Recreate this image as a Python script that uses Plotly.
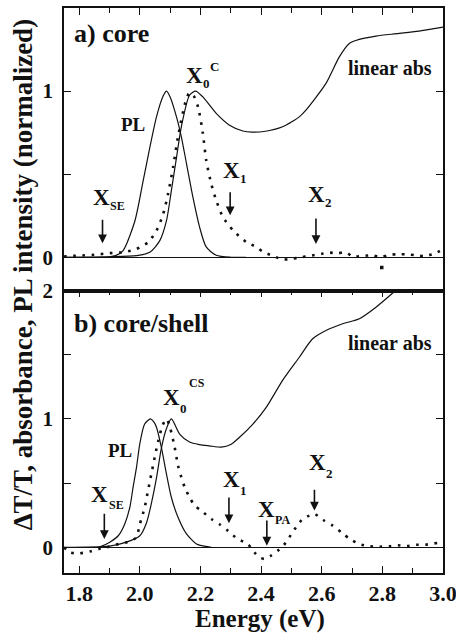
import plotly.graph_objects as go

# ---------------- data ----------------
# Panel a) core
pl_a_E = [1.75, 1.85, 1.90, 1.92, 1.945, 1.984, 2.011, 2.033, 2.055, 2.077, 2.088, 2.10, 2.121, 2.137, 2.154, 2.175, 2.197, 2.219, 2.252, 2.30, 2.35]
pl_a_v = [0.0, 0.0, 0.003, 0.01, 0.04, 0.22, 0.46, 0.66, 0.845, 0.97, 1.0, 0.965, 0.845, 0.725, 0.564, 0.363, 0.183, 0.062, 0.012, 0.0, 0.0]

abs_a_E = [1.75, 1.90, 1.99, 2.033, 2.066, 2.088, 2.104, 2.121, 2.137, 2.164, 2.184, 2.208, 2.252, 2.296, 2.34, 2.37, 2.41,
           2.471, 2.526, 2.548, 2.614, 2.658, 2.691, 2.724, 2.779, 2.855, 2.93, 3.0]
abs_a_v = [0.0, 0.003, 0.01, 0.03, 0.10, 0.22, 0.40, 0.60, 0.785, 0.975, 1.0, 0.965, 0.866, 0.795, 0.76, 0.753, 0.757,
           0.785, 0.845, 0.885, 1.046, 1.206, 1.287, 1.311, 1.331, 1.347, 1.364, 1.385]

dt_a_E = [1.75, 1.80, 1.85, 1.90, 1.945, 1.989, 2.027, 2.055, 2.077, 2.093, 2.11, 2.126, 2.15, 2.164, 2.178, 2.192, 2.208,
          2.219, 2.236, 2.252, 2.274, 2.307, 2.351, 2.384, 2.406, 2.43, 2.471, 2.50, 2.53, 2.56, 2.598, 2.625, 2.652,
          2.68, 2.702, 2.735, 2.768, 2.795, 2.82, 2.85, 2.88, 2.91, 2.94, 2.975, 3.0]
dt_a_v = [0.005, 0.01, 0.015, 0.025, 0.03, 0.05, 0.09, 0.16, 0.26, 0.38, 0.544, 0.725, 0.93, 0.99, 0.97, 0.905, 0.745,
          0.584, 0.44, 0.343, 0.243, 0.163, 0.092, 0.062, 0.033, 0.015, -0.013, -0.01, 0.0, 0.008, 0.02, 0.028, 0.024,
          0.03, 0.004, 0.008, 0.012, 0.0, 0.014, 0.018, 0.018, 0.012, 0.008, 0.024, 0.05]
glitch_a_E = [2.798]
glitch_a_v = [-0.062]

# Panel b) core/shell
pl_b_E = [1.86, 1.87, 1.901, 1.929, 1.95, 1.967, 1.978, 1.989, 2.0, 2.016, 2.035, 2.045, 2.055, 2.071, 2.088, 2.104,
          2.126, 2.154, 2.187, 2.20, 2.236]
pl_b_v = [0.0, 0.005, 0.04, 0.09, 0.18, 0.31, 0.47, 0.62, 0.806, 0.96, 1.0, 0.98, 0.935, 0.78, 0.57, 0.39,
          0.234, 0.104, 0.026, 0.015, 0.0]

abs_b_E = [1.75, 1.90, 1.956, 2.0, 2.022, 2.038, 2.055, 2.071, 2.088, 2.104, 2.132, 2.164, 2.197, 2.23, 2.269, 2.30,
           2.329, 2.373, 2.417, 2.471, 2.526, 2.57, 2.614, 2.669, 2.724, 2.779, 2.839, 2.90]
abs_b_v = [0.0, 0.01, 0.04, 0.09, 0.19, 0.34, 0.54, 0.77, 0.925, 1.0, 0.88, 0.82, 0.80, 0.79, 0.78, 0.80,
           0.857, 0.96, 1.09, 1.30, 1.48, 1.624, 1.689, 1.741, 1.78, 1.87, 1.99, 2.12]

dt_b_E = [1.75, 1.77, 1.80, 1.84, 1.87, 1.89, 1.92, 1.95, 1.975, 1.989, 2.0, 2.016, 2.027, 2.038, 2.049, 2.06, 2.075,
          2.088, 2.10, 2.115, 2.126, 2.137, 2.148, 2.164, 2.181, 2.203, 2.236, 2.263, 2.29, 2.323, 2.356, 2.378,
          2.395, 2.411, 2.433, 2.455, 2.471, 2.493, 2.515, 2.537, 2.559, 2.576, 2.605, 2.636, 2.667, 2.693, 2.724,
          2.757, 2.79, 2.82, 2.85, 2.88, 2.91, 2.94, 2.97, 3.0]
dt_b_v = [0.0, -0.04, -0.047, -0.03, -0.01, 0.0, 0.02, 0.035, 0.055, 0.078, 0.18, 0.31, 0.44, 0.57, 0.70, 0.82, 0.95,
          1.0, 0.93, 0.78, 0.637, 0.546, 0.468, 0.39, 0.325, 0.286, 0.22, 0.18, 0.13, 0.065, 0.026, -0.039,
          -0.078, -0.09, -0.065, -0.026, 0.005, 0.078, 0.156, 0.22, 0.247, 0.26, 0.213, 0.169, 0.112, 0.065, 0.026,
          0.008, 0.005, 0.008, 0.016, 0.01, 0.02, 0.02, 0.03, 0.04]

# transition energies marked with arrows
arrow_a_E = [1.877, 2.298, 2.581]            # X_SE, X_1, X_2 (core)
arrow_b_E = [1.883, 2.294, 2.419, 2.576]     # X_SE, X_1, X_PA, X_2 (core/shell)

x_ticks = [1.8, 2.0, 2.2, 2.4, 2.6, 2.8, 3.0]

# ---------------- figure ----------------
FONT = "Liberation Serif, Times New Roman, serif"
BLACK = "#111111"

fig = go.Figure()

def solid(E, v, xa, ya):
    fig.add_trace(go.Scatter(x=E, y=v, mode="lines", xaxis=xa, yaxis=ya,
                             line=dict(color=BLACK, width=1.2, shape="spline", smoothing=0.7),
                             showlegend=False, hoverinfo="skip"))

def dotted(E, v, xa, ya):
    fig.add_trace(go.Scatter(x=E, y=v, mode="lines", xaxis=xa, yaxis=ya,
                             line=dict(color=BLACK, width=2.6, dash="2.6px,6.6px",
                                       shape="spline", smoothing=0.7),
                             showlegend=False, hoverinfo="skip"))

# panel a (top) uses x2/y2
solid(pl_a_E, pl_a_v, "x2", "y2")
solid(abs_a_E, abs_a_v, "x2", "y2")
dotted(dt_a_E, dt_a_v, "x2", "y2")
fig.add_trace(go.Scatter(x=glitch_a_E, y=glitch_a_v, mode="markers", xaxis="x2", yaxis="y2",
                         marker=dict(color=BLACK, size=3.5, symbol="square"),
                         showlegend=False, hoverinfo="skip"))

# panel b (bottom) uses x/y
solid(pl_b_E, pl_b_v, "x", "y")
solid(abs_b_E, abs_b_v, "x", "y")
dotted(dt_b_E, dt_b_v, "x", "y")

axis_common = dict(showgrid=False, showline=True, linecolor=BLACK, linewidth=1.8,
                   ticks="inside", tickcolor=BLACK, tickwidth=1.3, automargin=False)

fig.update_layout(
    width=456, height=641,
    margin=dict(l=64, r=13, t=8, b=68),
    paper_bgcolor="white", plot_bgcolor="white",
    font=dict(family=FONT, color=BLACK, weight="bold"),
    xaxis=dict(domain=[0, 1], anchor="y", range=[1.75, 3.0], tickvals=x_ticks, tickformat=".1f",
               ticklen=7, mirror="allticks", zeroline=False, ticklabeloverflow="allow",
               ticklabelstandoff=0,
               minor=dict(dtick=0.1, tick0=1.8, ticks="inside", ticklen=5, tickwidth=1.3, tickcolor=BLACK),
               tickfont=dict(size=22, family=FONT, weight="bold"), **axis_common),
    xaxis2=dict(domain=[0, 1], anchor="y2", matches="x", range=[1.75, 3.0], side="top",
                tickvals=x_ticks, showticklabels=False, ticklen=7, mirror=True, zeroline=False,
                minor=dict(dtick=0.1, tick0=1.8, ticks="inside", ticklen=5, tickwidth=1.3, tickcolor=BLACK),
                **axis_common),
    yaxis=dict(domain=[0, 0.5], anchor="x", range=[-0.2, 2.0], tick0=0, dtick=1, ticklen=7,
               mirror="allticks", zeroline=True, zerolinecolor=BLACK, zerolinewidth=1.3,
               ticklabeloverflow="allow", ticklabelstandoff=5,
               minor=dict(dtick=0.5, ticks="inside", ticklen=7, tickwidth=1.3, tickcolor=BLACK),
               tickfont=dict(size=21, family=FONT, weight="bold"), **axis_common),
    yaxis2=dict(domain=[0.5, 1], anchor="x2", range=[-0.2, 1.5], tick0=0, dtick=1, ticklen=7,
                mirror="allticks", zeroline=True, zerolinecolor=BLACK, zerolinewidth=1.3,
                ticklabelstandoff=5,
                minor=dict(dtick=0.5, ticks="inside", ticklen=7, tickwidth=1.3, tickcolor=BLACK),
                tickfont=dict(size=21, family=FONT, weight="bold"), **axis_common),
)

ann = []

def txt(text, x, y, xr, yr, size, xanchor="center", yanchor="middle"):
    ann.append(dict(text=text, x=x, y=y, xref=xr, yref=yr, showarrow=False,
                    xanchor=xanchor, yanchor=yanchor,
                    font=dict(family=FONT, size=size, color=BLACK, weight="bold")))

X_PX = 23
SUB_DX = 0.0563          # eV, sub-label start right of the X

def xlabel(sub, x, y, xr, yr, sub_px, sub_dy, sup=None, sup_dx=0.0, sup_dy=0.0, sup_px=13):
    txt("X", x, y, xr, yr, X_PX, xanchor="left", yanchor="top")
    txt(sub, x + SUB_DX, y - sub_dy, xr, yr, sub_px, xanchor="left", yanchor="top")
    if sup:
        txt(sup, x + sup_dx, y + sup_dy, xr, yr, sup_px, xanchor="left", yanchor="top")

def arrow(E, tail, tip, xr, yr):
    ann.append(dict(text="", x=E, y=tip, ax=E, ay=tail, xref=xr, yref=yr, axref=xr, ayref=yr,
                    showarrow=True, arrowhead=2, arrowsize=1.1, arrowwidth=1.6, arrowcolor=BLACK,
                    standoff=0, startstandoff=0))

# panel a labels
txt("a) core", 1.776, 1.349, "x2", "y2", 26, xanchor="left")
txt("linear abs", 2.97, 1.139, "x2", "y2", 20, xanchor="right")
txt("PL", 1.979, 0.80, "x2", "y2", 19)
xlabel("0", 2.147, 1.184, "x2", "y2", 13, 0.081, sup="C", sup_dx=0.079, sup_dy=0.022)
xlabel("SE", 1.840, 0.449, "x2", "y2", 12, 0.086)
xlabel("1", 2.267, 0.612, "x2", "y2", 13, 0.081)
xlabel("2", 2.547, 0.467, "x2", "y2", 13, 0.081)
arrow(arrow_a_E[0], 0.235, 0.084, "x2", "y2")
arrow(arrow_a_E[1], 0.400, 0.253, "x2", "y2")
arrow(arrow_a_E[2], 0.243, 0.080, "x2", "y2")

# panel b labels
txt("b) core/shell", 1.776, 1.744, "x", "y", 26, xanchor="left")
txt("linear abs", 2.97, 1.588, "x", "y", 20, xanchor="right")
txt("PL", 1.934, 0.754, "x", "y", 19)
xlabel("0", 2.070, 1.281, "x", "y", 13, 0.124, sup="CS", sup_dx=0.0845, sup_dy=0.069, sup_px=12)
xlabel("SE", 1.834, 0.527, "x", "y", 12, 0.131)
xlabel("1", 2.267, 0.644, "x", "y", 13, 0.124)
xlabel("PA", 2.382, 0.410, "x", "y", 12, 0.131)
xlabel("2", 2.552, 0.774, "x", "y", 13, 0.124)
arrow(arrow_b_E[0], 0.273, 0.065, "x", "y")
arrow(arrow_b_E[1], 0.400, 0.187, "x", "y")
arrow(arrow_b_E[2], 0.220, 0.013, "x", "y")
arrow(arrow_b_E[3], 0.460, 0.286, "x", "y")

# axis titles
ann.append(dict(text="ΔT/T, absorbance, PL intensity (normalized)", x=-0.108, y=0.527,
                xref="paper", yref="paper", showarrow=False, textangle=-90,
                xanchor="center", yanchor="middle",
                font=dict(family=FONT, size=27, color=BLACK, weight="bold")))
ann.append(dict(text="Energy (eV)", x=0.517, y=-0.082, xref="paper", yref="paper", showarrow=False,
                xanchor="center", yanchor="middle",
                font=dict(family=FONT, size=25, color=BLACK, weight="bold")))

fig.update_layout(annotations=ann)
fig.write_html("out.html", config={"displayModeBar": False},
               post_script="document.body.style.margin='0';document.body.style.padding='0';")
